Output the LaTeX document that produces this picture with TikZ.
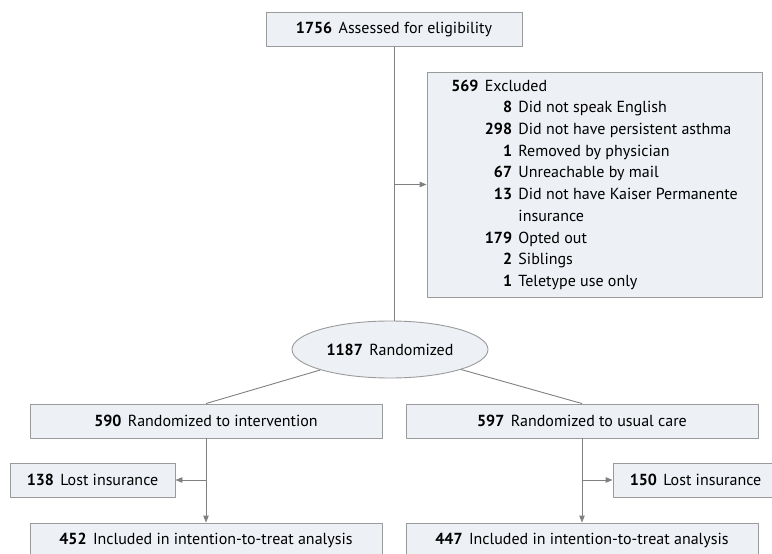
\documentclass[tikz,border=0pt]{standalone}
\usepackage{fontspec}
\setmainfont{PT Sans}
\usetikzlibrary{shapes.geometric,arrows.meta}
\definecolor{boxfill}{HTML}{EDF0F5}
\definecolor{boxline}{HTML}{9A9A9A}
\definecolor{flowline}{HTML}{808080}
\tikzset{
  flowbox/.style={draw=boxline, fill=boxfill, line width=0.9pt, inner sep=0pt,
    minimum height=34pt, font=\fontsize{16}{19}\selectfont},
  flowline/.style={draw=flowline, line width=0.9pt},
  flowarrow/.style={flowline, ->},
}
\newcommand{\nb}[1]{\textbf{#1}\hspace{0.4em}}
\begin{document}
\begin{tikzpicture}[x=1pt, y=-1pt, line join=round, >={Triangle[length=7pt,width=5.5pt]}]
	\useasboundingbox (0,0) rectangle (772,554);
	\clip (0,0) rectangle (772,554);
	\node[flowbox, minimum width=256pt] (assess) at (394,29.5) {\nb{1756}Assessed for eligibility};
	\node[flowbox, minimum width=335pt, minimum height=225pt] (excl) at (594.5,184.5)
	{\fontsize{16}{21.7}\selectfont
		\begin{tabular}{@{}r@{\hspace{0.4em}}r@{\hspace{0.4em}}l@{}}
			\textbf{569} & \multicolumn{2}{@{}l@{}}{Excluded}\\
			& \textbf{8} & Did not speak English\\
			& \textbf{298} & Did not have persistent asthma\\
			& \textbf{1} & Removed by physician\\
			& \textbf{67} & Unreachable by mail\\
			& \textbf{13} & Did not have Kaiser Permanente\\
			& & insurance\\
			& \textbf{179} & Opted out\\
			& \textbf{2} & Siblings\\
			& \textbf{1} & Teletype use only
	\end{tabular}};
	\node[flowbox, ellipse, minimum width=196pt, minimum height=57pt] (rand) at (390,349.5) {\nb{1187}Randomized};
	\node[flowbox, minimum width=352pt] (intv) at (206,421) {\nb{590}Randomized to intervention};
	\node[flowbox, minimum width=352pt] (usual) at (582,421) {\nb{597}Randomized to usual care};
	\node[flowbox, minimum width=165pt] (lostA) at (92.5,480) {\nb{138}Lost insurance};
	\node[flowbox, minimum width=165pt] (lostB) at (695.5,480) {\nb{150}Lost insurance};
	\node[flowbox, minimum width=352pt] (ittA) at (206,540) {\nb{452}Included in intention-to-treat analysis};
	\node[flowbox, minimum width=352pt] (ittB) at (582,540) {\nb{447}Included in intention-to-treat analysis};
	% branch points
	\path (assess.south |- excl.west) coordinate (bx)
	(assess.south |- rand.north) coordinate (rtop)
	(intv.south |- lostA.east) coordinate (ba)
	(usual.south |- lostB.west) coordinate (bb);
	\draw[flowline] (assess.south) -- (rtop);
	\draw[flowarrow] (bx) -- (excl.west);
	\draw[flowline] (rand) -- (intv.north) (rand) -- (usual.north);
	\draw[flowarrow] (intv.south) -- (ittA.north);
	\draw[flowarrow] (usual.south) -- (ittB.north);
	\draw[flowarrow] (ba) -- (lostA.east);
	\draw[flowarrow] (bb) -- (lostB.west);
\end{tikzpicture}
\end{document}
